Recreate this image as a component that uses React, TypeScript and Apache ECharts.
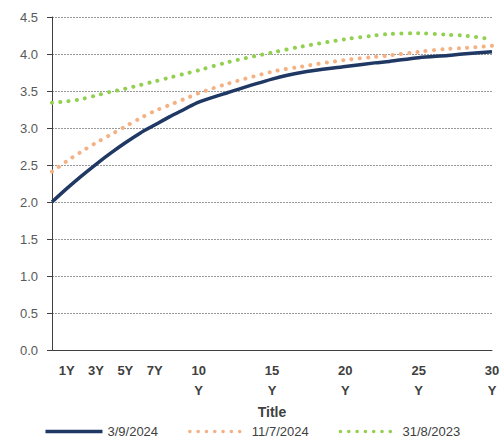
import React, { useEffect, useRef } from "react";
import * as echarts from "echarts";

const years = [0, 1, 2, 3, 4, 5, 6, 7, 8, 9, 10, 12, 15, 17, 20, 22, 23, 25, 27, 28, 30];
const curve_2024_09_03 = [2.0, 2.18, 2.35, 2.51, 2.66, 2.8, 2.93, 3.04, 3.15, 3.25, 3.35, 3.48, 3.66, 3.75, 3.83, 3.88, 3.9, 3.95, 3.98, 4.0, 4.03];
const curve_2024_07_11 = [2.41, 2.55, 2.68, 2.8, 2.91, 3.02, 3.13, 3.23, 3.31, 3.39, 3.47, 3.6, 3.76, 3.83, 3.92, 3.96, 3.98, 4.03, 4.07, 4.08, 4.11];
const curve_2023_08_31 = [3.34, 3.36, 3.39, 3.44, 3.49, 3.53, 3.58, 3.63, 3.68, 3.73, 3.78, 3.89, 4.02, 4.1, 4.2, 4.25, 4.27, 4.28, 4.26, 4.25, 4.2];
const seriesNames = ["3/9/2024", "11/7/2024", "31/8/2023"];
const xTickValues = [1, 3, 5, 7, 10, 15, 20, 25, 30];
const xTickLabels = ["1Y", "3Y", "5Y", "7Y", "10\nY", "15\nY", "20\nY", "25\nY", "30\nY"];
const xTitle = "Title";

const FONT = "'Liberation Sans', Arial, sans-serif";

export default function App() {
  const ref = useRef<HTMLDivElement>(null);
  useEffect(() => {
    if (!ref.current) return;
    const chart = echarts.init(ref.current, null, { renderer: "svg" });
    const toPairs = (vals: number[]) => years.map((y, i) => [y, vals[i]]);
    const dotted = (color: string) => ({
      color,
      width: 4,
      type: [0.1, 8.2] as any,
      cap: "round" as any,
    });
    chart.setOption({
      animation: false,
      textStyle: { fontFamily: FONT },
      grid: { left: 52, right: 12, top: 17, bottom: 91, containLabel: false },
      xAxis: {
        type: "value",
        min: 0,
        max: 30,
        name: xTitle,
        nameLocation: "middle",
        nameGap: 48,
        nameTextStyle: { fontFamily: FONT, fontSize: 14, fontWeight: "bold", color: "#404040" },
        axisLine: { show: true, lineStyle: { color: "#404040", width: 1 } },
        axisTick: { show: false },
        splitLine: { show: false },
        axisLabel: {
          customValues: xTickValues,
          formatter: (v: number) => {
            const i = xTickValues.indexOf(v);
            return i >= 0 ? xTickLabels[i] : "";
          },
          fontFamily: FONT,
          fontSize: 13,
          fontWeight: "bold",
          color: "#404040",
          lineHeight: 20,
          margin: 10,
        },
      },
      yAxis: {
        type: "value",
        min: 0,
        max: 4.5,
        interval: 0.5,
        axisLine: { show: true, lineStyle: { color: "#404040", width: 1 } },
        axisTick: { show: true, length: 5, lineStyle: { color: "#404040" } },
        axisLabel: {
          formatter: (v: number) => v.toFixed(1),
          fontFamily: FONT,
          fontSize: 13,
          color: "#595959",
          margin: 14,
        },
        splitLine: { show: true, lineStyle: { color: "#999999", type: [2, 1], width: 1 } },
      },
      legend: {
        top: 420,
        left: "center",
        itemWidth: 57,
        itemHeight: 8,
        itemGap: 30,
        itemStyle: { opacity: 0 },
        lineStyle: { width: 3.5 },
        textStyle: { fontFamily: FONT, fontSize: 13, color: "#404040" },
        data: seriesNames,
      },
      series: [
        {
          name: seriesNames[0],
          type: "line",
          data: toPairs(curve_2024_09_03),
          symbol: "none",
          smooth: 0.3,
          lineStyle: { color: "#1F3864", width: 3.5 },
          itemStyle: { color: "#1F3864" },
          z: 3,
        },
        {
          name: seriesNames[1],
          type: "line",
          data: toPairs(curve_2024_07_11),
          symbol: "none",
          smooth: 0.3,
          lineStyle: dotted("#F4B183"),
          itemStyle: { color: "#F4B183" },
          z: 2,
        },
        {
          name: seriesNames[2],
          type: "line",
          data: toPairs(curve_2023_08_31),
          symbol: "none",
          smooth: 0.3,
          lineStyle: dotted("#92D050"),
          itemStyle: { color: "#92D050" },
          z: 2,
        },
      ],
    });
    return () => chart.dispose();
  }, []);
  return <div ref={ref} style={{ width: 504, height: 441, position: "absolute", left: 0, top: 0 }} />;
}
